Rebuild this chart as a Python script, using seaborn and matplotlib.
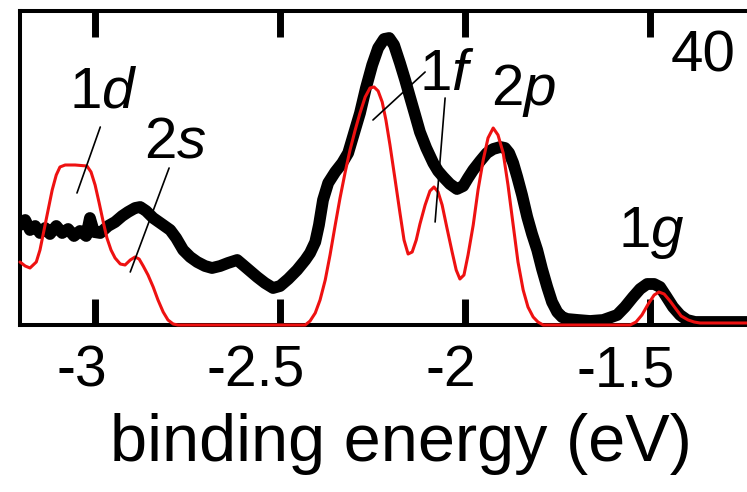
import matplotlib
matplotlib.use("Agg")
import matplotlib.pyplot as plt
import matplotlib.transforms as mtransforms
import seaborn as sns
import pandas as pd

# Measured photoelectron spectrum (thick black)
energy_exp = [-3.203, -3.189, -3.176, -3.162, -3.149, -3.135, -3.122, -3.105, -3.089,
              -3.073, -3.057, -3.041, -3.024, -3.014, -3.003, -2.986, -2.965,
              -2.946, -2.927, -2.911, -2.892, -2.878, -2.862, -2.843, -2.816, -2.797,
              -2.781, -2.762, -2.743, -2.724, -2.703, -2.684, -2.662, -2.641, -2.616,
              -2.600, -2.581, -2.562, -2.541, -2.519, -2.500, -2.478, -2.454, -2.432,
              -2.419, -2.405, -2.395, -2.384, -2.370, -2.351, -2.332, -2.316, -2.300,
              -2.284, -2.268, -2.251, -2.235, -2.219, -2.205, -2.192, -2.176, -2.162,
              -2.149, -2.135, -2.122, -2.105, -2.086, -2.073, -2.059, -2.041, -2.022,
              -2.005, -1.992, -1.978, -1.959, -1.941, -1.924, -1.905, -1.892, -1.881,
              -1.870, -1.859, -1.846, -1.832, -1.819, -1.805, -1.792, -1.778, -1.765,
              -1.751, -1.738, -1.724, -1.695, -1.662, -1.627, -1.589, -1.568, -1.546,
              -1.527, -1.508, -1.489, -1.473, -1.457, -1.438, -1.419, -1.400, -1.378,
              -1.338, -1.238]
intensity_exp = [100, 105, 95, 99, 92, 97, 91, 99, 92,
                 96, 89, 94, 89, 107, 93, 92, 99,
                 103, 109, 113, 117, 118, 114, 107, 100, 95,
                 87, 75, 68, 63, 59, 57, 59, 62, 65,
                 60, 54, 48, 42, 37, 39, 46, 55, 65,
                 72, 83, 100, 125, 142, 153, 162, 172, 192,
                 212, 237, 260, 277, 286, 287, 280, 262, 245,
                 228, 210, 193, 177, 162, 154, 148, 141, 136,
                 139, 147, 155, 164, 172, 176, 178, 177, 172,
                 162, 148, 130, 108, 91, 75, 56, 38, 23,
                 13, 8, 6, 5, 4, 5, 10, 18, 28,
                 36, 41, 41, 38, 29, 18, 10, 5, 3,
                 3, 3]

# Calculated spectrum (thin red)
energy_calc = [-3.203, -3.189, -3.176, -3.159, -3.149, -3.138, -3.127, -3.116, -3.105,
               -3.095, -3.081, -3.054, -3.022, -3.011, -3.000, -2.989, -2.978, -2.968,
               -2.957, -2.946, -2.932, -2.919, -2.905, -2.892, -2.881, -2.870, -2.857,
               -2.843, -2.830, -2.816, -2.803, -2.789, -2.776, -2.600, -2.432,
               -2.419, -2.405, -2.392, -2.378, -2.365, -2.351, -2.338, -2.324, -2.311,
               -2.297, -2.284, -2.270, -2.257, -2.246, -2.235, -2.224, -2.214, -2.203,
               -2.189, -2.176, -2.165, -2.154, -2.143, -2.132, -2.122, -2.108, -2.095,
               -2.084, -2.073, -2.062, -2.049, -2.035, -2.024, -2.014, -2.003, -1.992,
               -1.978, -1.965, -1.951, -1.938, -1.924, -1.911, -1.897, -1.884, -1.870,
               -1.857, -1.843, -1.830, -1.816, -1.803, -1.789, -1.670, -1.554,
               -1.538, -1.522, -1.505, -1.489, -1.476, -1.462, -1.446, -1.430, -1.416,
               -1.397, -1.381, -1.365, -1.238]
intensity_calc = [63, 59, 57, 63, 75, 95, 115, 135, 150,
                  158, 160, 160, 159, 153, 140, 122, 103, 87,
                  75, 67, 61, 60, 65, 68, 66, 59, 50,
                  38, 25, 13, 5, 1, 0, 0, 0,
                  4, 12, 25, 45, 70, 100, 127, 153, 175,
                  195, 212, 228, 237, 238, 234, 223, 205, 180,
                  145, 112, 85, 71, 73, 85, 101, 120, 134,
                  138, 133, 120, 97, 73, 55, 46, 50, 70,
                  100, 135, 165, 187, 197, 190, 172, 140, 100,
                  63, 35, 18, 8, 3, 0, 0, 0,
                  3, 10, 21, 30, 33, 31, 24, 16, 9,
                  5, 3, 2, 2]

tick_values = [-3, -2.5, -2, -1.5]
tick_labels = ["-3", "-2.5", "-2", "-1.5"]

# Peak labels: text, x (eV), y (baseline)
peak_names = ["1$d$", "2$s$", "1$f$", "2$p$", "1$g$", "40"]
peak_x = [-2.978, -2.784, -2.049, -1.843, -1.497, -1.357]
peak_y = [217, 168, 235, 220, 78, 253]

# Leader lines from labels to peaks: (x0, y0, x1, y1)
leaders = [(-2.986, 198, -3.049, 132),
           (-2.800, 157, -2.905, 53),
           (-2.108, 253, -2.249, 205),
           (-2.054, 227, -2.081, 103)]

sns.set_style("white")
plt.rcParams["font.family"] = ["Liberation Sans", "DejaVu Sans"]
plt.rcParams["mathtext.fontset"] = "custom"
plt.rcParams["mathtext.rm"] = "Liberation Sans"
plt.rcParams["mathtext.it"] = "Liberation Sans:italic"
plt.rcParams["text.color"] = "black"
plt.rcParams["axes.labelcolor"] = "black"
plt.rcParams["xtick.color"] = "black"

fig = plt.figure(figsize=(7.47, 4.92), dpi=100)
ax = fig.add_axes([20 / 747, 167 / 492, 727 / 747, 314 / 492])

df_exp = pd.DataFrame({"energy": energy_exp, "intensity": intensity_exp})
df_calc = pd.DataFrame({"energy": energy_calc, "intensity": intensity_calc})

sns.lineplot(data=df_exp, x="energy", y="intensity", color="black", lw=8.5,
             estimator=None, sort=False, ax=ax,
             solid_joinstyle="round", solid_capstyle="round", zorder=3)
sns.lineplot(data=df_calc, x="energy", y="intensity", color="#ee1111", lw=2.2,
             estimator=None, sort=False, ax=ax,
             solid_joinstyle="round", zorder=4, clip_on=False)

for x0, y0, x1, y1 in leaders:
    ax.plot([x0, x1], [y0, y1], color="black", lw=1.2, zorder=5)

for name, x, y in zip(peak_names, peak_x, peak_y):
    ax.text(x, y, name, fontsize=42, ha="center", va="baseline", zorder=6,
            color="black")

ax.set_xlim(-3.203, -1.238)
ax.set_ylim(0, 314)
ax.set_yticks([])
ax.set_xticks(tick_values)
ax.set_xticklabels(tick_labels)
ax.tick_params(axis="x", direction="in", length=19, width=5, top=True,
               bottom=True, labelsize=41, pad=14, color="black",
               labelcolor="black")

shifts = [-13, -24, -14, -24]
for lab, dx in zip(ax.get_xticklabels(), shifts):
    lab.set_transform(lab.get_transform() +
                      mtransforms.ScaledTranslation(dx / 100, 0, fig.dpi_scale_trans))

for side in ["left", "top", "bottom"]:
    ax.spines[side].set_linewidth(2.9)
    ax.spines[side].set_color("black")
ax.spines["right"].set_visible(False)

ax.set_xlabel("binding energy (eV)", fontsize=48, color="black")
ax.xaxis.set_label_coords(0.524, -0.28)
ax.set_ylabel("")

fig.savefig("out.png", dpi=100)
